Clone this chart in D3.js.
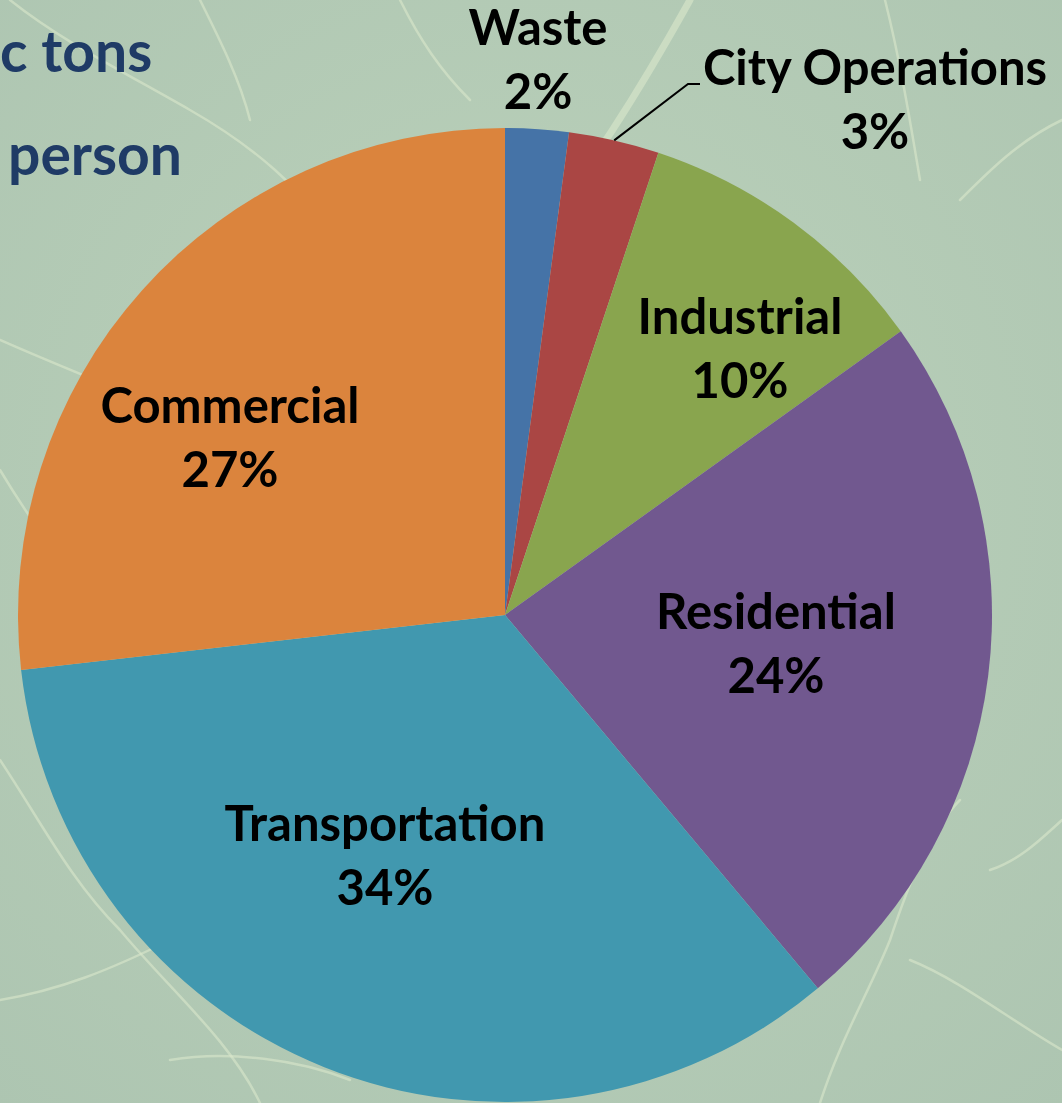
<!DOCTYPE html>
<html>
<head>
<meta charset="utf-8">
<script src="https://cdn.jsdelivr.net/npm/d3@7"></script>
<style>
	html, body { margin: 0; padding: 0; background: #b5ccb6; overflow: hidden; }
	text { font-family: Lato, "Open Sans", sans-serif; font-weight: 700; }
</style>
</head>
<body>
<div id="chart"></div>
<script>
'use strict';

// ----------   Data   ------------ //

const sectors  = ["Waste", "City Operations", "Industrial", "Residential", "Transportation", "Commercial"];
const shares   = [2.1, 3.0, 10.0, 23.8, 34.3, 26.8];
const pctLabel = ["2%", "3%", "10%", "24%", "34%", "27%"];
const colours  = ["#4573a7", "#aa4644", "#89a54e", "#71588f", "#4198af", "#db843d"];

// label centre, offset from pie centre
const labelAt  = [[33, -553], [370, -513], [235, -264], [271, 31], [-120, 243], [-275, -175]];

const titleLines = ["c tons", "person"];


const drawChart = () =>
{
	const width  = 1062;
	const height = 1103;
	const cx     = 505;
	const cy     = 615;
	const radius = 487;

	const svg = d3.select("#chart")
		.append("svg")
		.attr("width", width)
		.attr("height", height);

	drawLeaf(svg, width, height);

	svg.selectAll(".title")
		.data(titleLines)
		.enter()
			.append("text")
			.attr("class", "title")
			.attr("x", (t, i) => i === 0 ? 0 : 8)
			.attr("y", (t, i) => 72 + i * 103)
			.attr("fill", "#1f3b66")
			.style("font-size", "57px")
			.text(t => t);

	const pie = d3.pie().sort(null).value(d => d.value)
		.startAngle(0).endAngle(2 * Math.PI);
	const arc = d3.arc().innerRadius(0).outerRadius(radius);

	const rows = sectors.map((name, i) => ({ name, value: shares[i], pct: pctLabel[i], colour: colours[i], at: labelAt[i] }));
	const arcs = pie(rows);

	const g = svg.append("g")
		.attr("transform", "translate(" + cx + "," + cy + ")");

	g.selectAll(".slice")
		.data(arcs)
		.enter()
			.append("path")
			.attr("class", "slice")
			.attr("d", arc)
			.attr("fill", d => d.data.colour);

	// leader line for City Operations
	const ops = arcs[1];
	const mid = (ops.startAngle + ops.endAngle) / 2;
	const ex  = Math.sin(mid) * radius;
	const ey  = -Math.cos(mid) * radius;
	g.append("polyline")
		.attr("points", [[ex, ey], [183, -531], [195, -531]].map(p => p.join(",")).join(" "))
		.attr("fill", "none")
		.attr("stroke", "#000")
		.attr("stroke-width", 2);

	const labels = g.selectAll(".label")
		.data(arcs)
		.enter()
			.append("text")
			.attr("class", "label")
			.attr("text-anchor", "middle")
			.attr("fill", "#000")
			.style("font-size", "49px");

	labels.append("tspan")
		.attr("x", d => d.data.at[0])
		.attr("y", d => d.data.at[1] - 17)
		.text(d => d.data.name);

	labels.append("tspan")
		.attr("x", d => d.data.at[0])
		.attr("y", d => d.data.at[1] + 47)
		.text(d => d.data.pct);
};


// leaf texture behind the chart: a few pale veins
const drawLeaf = (svg, width, height) =>
{
	const defs = svg.append("defs");
	const grad = defs.append("radialGradient").attr("id", "leafBg").attr("cx", "50%").attr("cy", "45%").attr("r", "75%");
	grad.append("stop").attr("offset", "0%").attr("stop-color", "#bcd2bb");
	grad.append("stop").attr("offset", "100%").attr("stop-color", "#adc5b1");

	svg.append("rect")
		.attr("width", width)
		.attr("height", height)
		.attr("fill", "url(#leafBg)");

	const veins = [
		"M690,0 C640,90 590,170 520,260",
		"M0,340 C90,380 200,420 300,470",
		"M10,0 C60,40 120,70 190,110 C260,150 300,190 330,230",
		"M0,760 C40,820 70,880 120,930 C170,990 230,1040 260,1103",
		"M0,1000 C60,990 110,970 170,940",
		"M170,1060 C230,1050 300,1060 350,1080",
		"M885,0 C900,60 910,120 920,180",
		"M1062,120 C1020,140 990,170 960,200",
		"M820,1103 C840,1040 870,990 890,940 C910,880 930,830 960,800",
		"M910,960 C960,980 1010,1020 1062,1050",
		"M990,870 C1020,860 1040,840 1062,820",
		"M0,470 C30,520 60,560 90,600",
		"M200,0 C220,40 240,80 250,120",
		"M400,0 C420,40 440,70 470,100"
	];

	svg.append("g")
		.selectAll("path")
		.data(veins)
		.enter()
			.append("path")
			.attr("d", v => v)
			.attr("fill", "none")
			.attr("stroke", "#dbe8cc")
			.attr("stroke-opacity", 0.6)
			.attr("stroke-width", (v, i) => i === 0 ? 7 : 2.5)
			.attr("stroke-linecap", "round");
};


drawChart();
</script>
</body>
</html>
